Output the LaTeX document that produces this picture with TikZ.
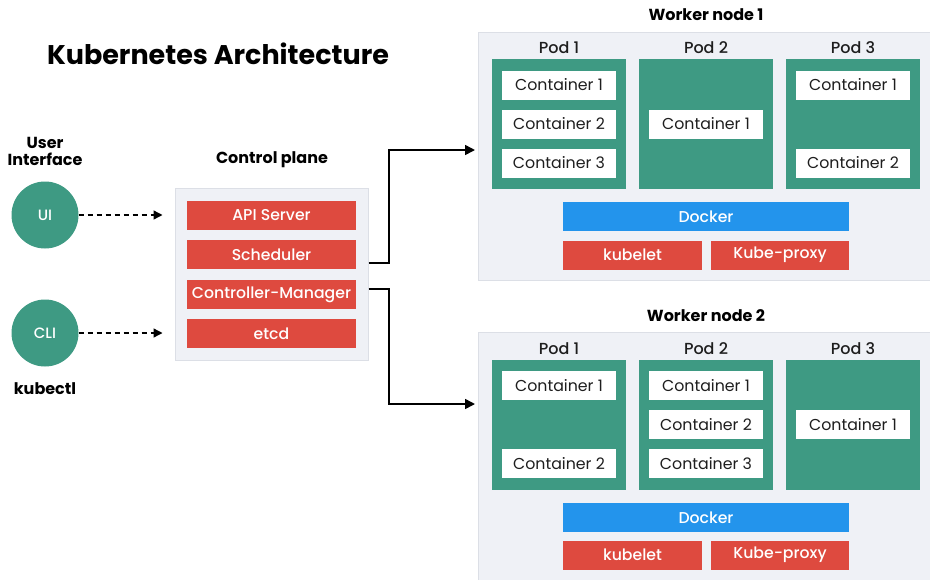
\documentclass[tikz,border=0pt]{standalone}
\usepackage{fontspec}
\setmainfont{Poppins}
\newfontfamily\pmed{Poppins}[UprightFont=* Medium]
\usetikzlibrary{arrows.meta,calc}
\definecolor{kgreen}{HTML}{3E9A83}
\definecolor{kred}{HTML}{DE4A3F}
\definecolor{kblue}{HTML}{2394EC}
\definecolor{kgray}{HTML}{EFF1F6}
\definecolor{kgrayline}{HTML}{DCDFE6}
\definecolor{kdark}{HTML}{1E1E1E}
\begin{document}
\begin{tikzpicture}[x=1pt,y=-1pt,
  frame/.style={fill=kgray,draw=kgrayline,line width=1pt},
  redbar/.style={fill=kred,text=white,minimum width=169pt,minimum height=29pt,inner sep=0pt,font=\pmed\fontsize{15.7}{17}\selectfont},
  wred/.style={redbar,minimum width=139pt},
  dock/.style={fill=kblue,text=white,minimum width=286pt,minimum height=29pt,inner sep=0pt,font=\pmed\fontsize{15.7}{17}\selectfont},
  pod/.style={fill=kgreen,minimum width=134pt,minimum height=130pt,inner sep=0pt},
  cont/.style={fill=white,text=kdark,minimum width=114pt,minimum height=29pt,inner sep=0pt,font=\fontsize{15.8}{17}\selectfont},
  lbl/.style={text=kdark,inner sep=0pt,font=\pmed\fontsize{16}{17}\selectfont},
  blbl/.style={text=black,inner sep=0pt,font=\bfseries\fontsize{16}{19}\selectfont,align=center},
  circ/.style={circle,fill=kgreen,text=white,minimum size=67pt,inner sep=0pt,font=\pmed\fontsize{15}{17}\selectfont},
  dasharrow/.style={draw=black,line width=1.4pt,dash pattern=on 5pt off 4pt,-{Triangle[length=9pt,width=9pt]}},
  solidarrow/.style={draw=black,line width=1.6pt,-{Triangle[length=10pt,width=10pt]}}
]
\useasboundingbox[fill=white] (0,0) rectangle (930,579);

% title
\node[inner sep=0pt,font=\bfseries\fontsize{27}{31}\selectfont] (title) at (218,54) {Kubernetes Architecture};

% user interface
\node[blbl] (uilbl) at (45,151) {User\\[-2pt]Interface};
\node[circ] (ui) at (45,215) {UI};
\node[circ] (cli) at (45,333) {CLI};
\node[blbl] (kctl) at (45,389) {kubectl};

% control plane
\node[blbl] (cplbl) at (272,160) {Control plane};
\node[frame,minimum width=193pt,minimum height=172pt,inner sep=0pt] (cp) at (271.5,274) {};
\node[redbar] (api) at (271.5,215) {API Server};
\node[redbar] (sch) at (271.5,254.5) {Scheduler};
\node[redbar] (cm) at (271.5,294.5) {Controller-Manager};
\node[redbar] (etcd) at (271.5,333.5) {etcd};

\draw[dasharrow,shorten >=12pt] (ui.east) -- (ui.east -| cp.west);
\draw[dasharrow,shorten >=12pt] (cli.east) -- (cli.east -| cp.west);

% worker node 1
\node[blbl] (w1lbl) at (706,15) {Worker node 1};
\node[frame,minimum width=454pt,minimum height=248pt,inner sep=0pt,anchor=north west] (w1) at (478,32) {};
\node[lbl] (w1p1l) at (559,48) {Pod 1};
\node[lbl] (w1p2l) at (706,48) {Pod 2};
\node[lbl] (w1p3l) at (853,48) {Pod 3};
\node[pod] (w1p1) at (559,124) {};
\node[pod] (w1p2) at (706,124) {};
\node[pod] (w1p3) at (853,124) {};
\node[cont] (w1c11) at (559,85) {Container 1};
\node[cont] (w1c12) at (559,124) {Container 2};
\node[cont] (w1c13) at (559,163) {Container 3};
\node[cont] (w1c21) at (706,124) {Container 1};
\node[cont] (w1c31) at (853,85) {Container 1};
\node[cont] (w1c32) at (853,163) {Container 2};
\node[dock] (w1d) at (706,216.5) {Docker};
\node[wred] (w1k) at (632.5,255) {kubelet};
\node[wred,minimum width=138pt] (w1kp) at (780,255) {Kube-proxy};

% worker node 2
\node[blbl] (w2lbl) at (706,316) {Worker node 2};
\node[frame,minimum width=454pt,minimum height=250pt,inner sep=0pt,anchor=north west] (w2) at (478,332) {};
\node[lbl] (w2p1l) at (559,349) {Pod 1};
\node[lbl] (w2p2l) at (706,349) {Pod 2};
\node[lbl] (w2p3l) at (853,349) {Pod 3};
\node[pod] (w2p1) at (559,425) {};
\node[pod] (w2p2) at (706,425) {};
\node[pod] (w2p3) at (853,425) {};
\node[cont] (w2c11) at (559,385.5) {Container 1};
\node[cont] (w2c12) at (559,463.5) {Container 2};
\node[cont] (w2c21) at (706,385.5) {Container 1};
\node[cont] (w2c22) at (706,424.5) {Container 2};
\node[cont] (w2c23) at (706,463.5) {Container 3};
\node[cont] (w2c31) at (853,424.5) {Container 1};
\node[dock] (w2d) at (706,517.5) {Docker};
\node[wred] (w2k) at (632.5,555) {kubelet};
\node[wred,minimum width=138pt] (w2kp) at (780,555) {Kube-proxy};

% connectors
\coordinate (s1) at ($(cp.east)+(0,-11)$);
\coordinate (s2) at ($(cp.east)+(0,15)$);
\coordinate (e1) at ($(w1.west |- 0,150)+(-3,0)$);
\coordinate (e2) at ($(w2.west |- 0,404)+(-3,0)$);
\draw[solidarrow] (s1) -- (389,0 |- s1) |- (e1);
\draw[solidarrow] (s2) -- (389,0 |- s2) |- (e2);
\end{tikzpicture}
\end{document}
